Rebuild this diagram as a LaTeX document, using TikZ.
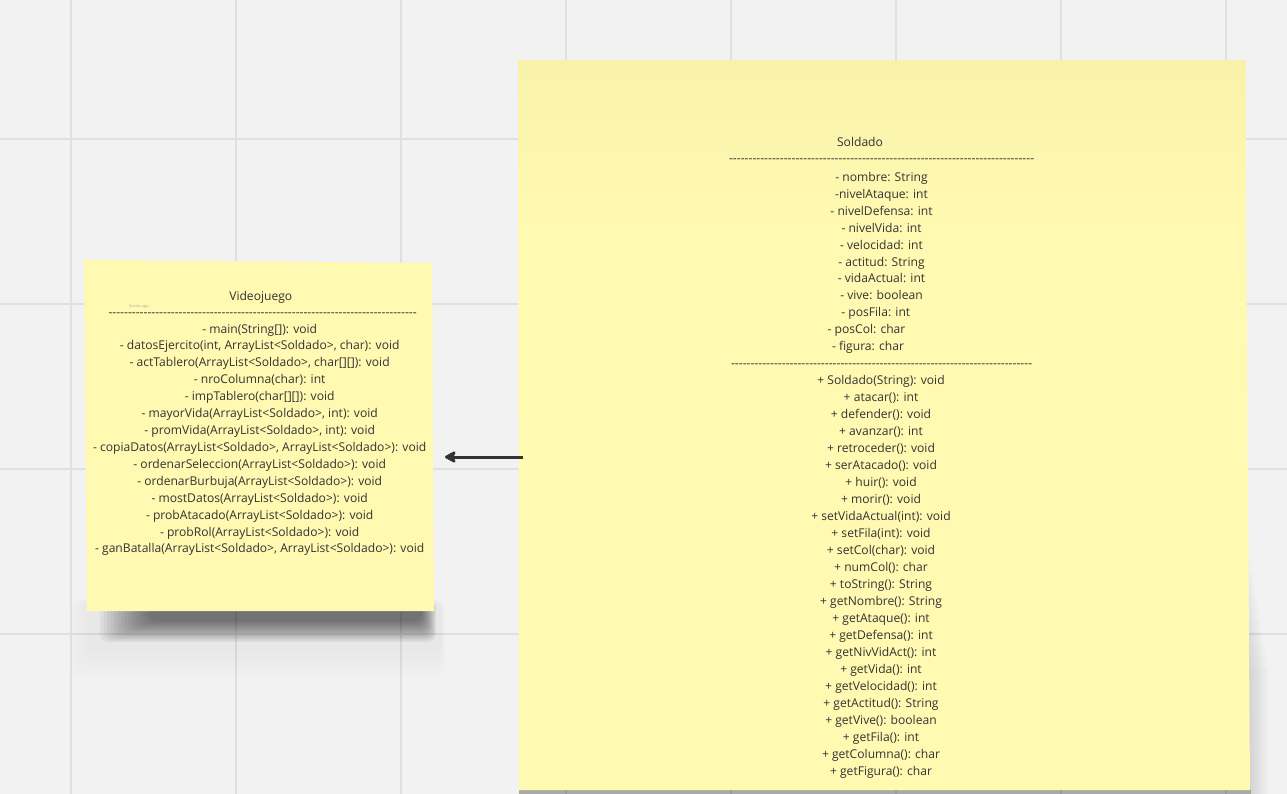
\documentclass[tikz,border=0pt]{standalone}
\usepackage{fontspec}
\setmainfont{Open Sans}
\usetikzlibrary{arrows.meta}
\definecolor{bg}{HTML}{F2F2F2}
\definecolor{gridc}{HTML}{E0E0E0}
\definecolor{sticky}{HTML}{FFF9B1}
\definecolor{stickytop}{HTML}{F9F2AB}
\definecolor{ink}{HTML}{333333}
\begin{document}
\begin{tikzpicture}[x=1pt,y=-1pt,
  txt/.style={font=\fontsize{12.1}{14}\selectfont, text=ink, inner sep=0pt, anchor=base},
  gridline/.style={draw=gridc, line width=1.3pt},
  arrowline/.style={draw=ink, line width=3pt, -{Stealth[length=13pt,width=14pt,inset=3pt,round]}},
  ]
\fill[bg] (0,0) rectangle (1287,794);
\useasboundingbox (0,0) rectangle (1287,794);
% grid
\foreach \x in {71,236,...,1226} \draw[gridline] (\x,0) -- (\x,794);
\foreach \y in {139,304,...,634} \draw[gridline] (0,\y) -- (1287,\y);

% shadow of left sticky
\foreach \k in {0,...,4}
  \fill[black,opacity=0.008,rounded corners=10pt] (70+4*\k,600) rectangle (445-\k,678-6*\k);
\foreach \k in {0,...,14}
  \fill[black,opacity=0.045,rounded corners=8pt] (100+3.5*\k,600) rectangle (436-\k,642-1.5*\k);
% shadow of right sticky
\foreach \k in {0,...,9}
  \fill[black,opacity=0.012] (519,560+\k*12) -- (1251+\k*2,560+\k*12) -- (1251+\k*2,794) -- (519,794) -- cycle;
\fill[black,opacity=0.2] (519,789) rectangle (1251,794);

% left sticky
\fill[sticky] (84,260) -- (432,263) -- (434,611) -- (87,611) -- cycle;
\node[font=\fontsize{3.5}{4}\selectfont, text=black!35, inner sep=0pt] (ph) at (139,307) {Escribe algo};

% right sticky
\fill[sticky] (518,61) -- (1245,61) -- (1250,790) -- (519,790) -- cycle;
\shade[top color=stickytop, bottom color=sticky] (518,61) rectangle (1245.5,230);

% Videojuego text
\node[txt] (vjt) at (260.8,300) {Videojuego};
\node[txt] (vjd) at (262.5,316) {\hbox to 308pt{\xleaders\hbox{-}\hfill}};
\foreach \t [count=\i from 0] in {
  - main(String[]): void,
  {- datosEjercito(int, ArrayList<Soldado>, char): void},
  {- actTablero(ArrayList<Soldado>, char[][]): void},
  - nroColumna(char): int,
  - impTablero(char[][]): void,
  {- mayorVida(ArrayList<Soldado>, int): void},
  {- promVida(ArrayList<Soldado>, int): void},
  {- copiaDatos(ArrayList<Soldado>, ArrayList<Soldado>): void},
  - ordenarSeleccion(ArrayList<Soldado>): void,
  - ordenarBurbuja(ArrayList<Soldado>): void,
  - mostDatos(ArrayList<Soldado>): void,
  - probAtacado(ArrayList<Soldado>): void,
  - probRol(ArrayList<Soldado>): void,
  {- ganBatalla(ArrayList<Soldado>, ArrayList<Soldado>): void}}
  \node[txt] (vm\i) at (259.7,333+16.92*\i) {\t};

% Soldado text
\node[txt] (sot) at (860,147) {Soldado};
\node[txt] (sod1) at (881.5,163) {\hbox to 305pt{\xleaders\hbox{-}\hfill}};
\foreach \t [count=\i from 0] in {
  - nombre: String, -nivelAtaque: int, - nivelDefensa: int, - nivelVida: int,
  - velocidad: int, - actitud: String, - vidaActual: int, - vive: boolean}
  \node[txt] (sa\i) at (881.5,182+16.8*\i) {\t};
\node[txt] (sa8) at (875.8,182+16.8*8) {- posFila: int};
\node[txt] (sa9) at (866.5,182+16.8*9) {- posCol: char};
\node[txt] (sa10) at (868,182+16.8*10) {- figura: char};
\node[txt] (sod2) at (881.5,367) {\hbox to 301pt{\xleaders\hbox{-}\hfill}};
\foreach \t [count=\i from 0] in {
  + Soldado(String): void, + atacar(): int, + defender(): void, + avanzar(): int,
  + retroceder(): void, + serAtacado(): void, + huir(): void, + morir(): void,
  + setVidaActual(int): void, + setFila(int): void, + setCol(char): void,
  + numCol(): char, + toString(): String, + getNombre(): String,
  + getAtaque(): int, + getDefensa(): int, + getNivVidAct(): int,
  + getVida(): int, + getVelocidad(): int, + getActitud(): String,
  + getVive(): boolean, + getFila(): int, + getColumna(): char,
  + getFigura(): char}
  \node[txt] (sm\i) at (881,384+17*\i) {\t};

% arrow
\coordinate (afrom) at (523,457);
\coordinate (ato) at (445,457);
\draw[arrowline] (afrom) -- (ato);
\end{tikzpicture}
\end{document}
